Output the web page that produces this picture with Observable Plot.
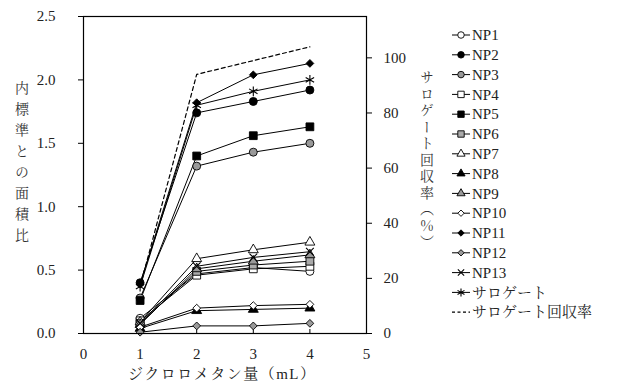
<!DOCTYPE html>
<html>
<head>
<meta charset="utf-8">
<script src="https://cdn.jsdelivr.net/npm/d3@7"></script>
<script src="https://cdn.jsdelivr.net/npm/@observablehq/plot@0.6"></script>
<style>
  html, body { margin: 0; padding: 0; background: #fff; }
  #wrap { position: relative; width: 619px; height: 383px; }
  .vlab { position: absolute; writing-mode: vertical-rl; text-orientation: upright; font-size: 14px; color: #333; font-family: 'Noto Serif CJK JP', 'Liberation Serif', serif; white-space: nowrap; }
  .hlab { position: absolute; font-size: 15px; color: #222; white-space: nowrap; font-family: 'Liberation Serif', 'Noto Serif CJK JP', serif; }
</style>
</head>
<body>
<div id="wrap"></div>
<script>
// ---- data ----
const volumes = [1, 2, 3, 4];                       // ジクロロメタン量 (mL)
const seriesNames = ["NP1","NP2","NP3","NP4","NP5","NP6","NP7","NP8","NP9","NP10","NP11","NP12","NP13","サロゲート"];
const np1  = [0.12, 0.47, 0.52, 0.49];
const np2  = [0.40, 1.74, 1.83, 1.92];
const np3  = [0.28, 1.32, 1.43, 1.50];
const np4  = [0.10, 0.46, 0.51, 0.53];
const np5  = [0.26, 1.40, 1.56, 1.63];
const np6  = [0.08, 0.49, 0.54, 0.57];
const np7  = [0.09, 0.59, 0.66, 0.72];
const np8  = [0.04, 0.18, 0.19, 0.20];
const np9  = [0.07, 0.51, 0.57, 0.62];
const np10 = [0.05, 0.20, 0.22, 0.23];
const np11 = [0.39, 1.82, 2.04, 2.13];
const np12 = [0.01, 0.06, 0.06, 0.08];
const np13 = [0.08, 0.53, 0.60, 0.645];
const surrogate = [0.37, 1.80, 1.91, 2.00];
const recoveryRate = [17, 94, 99, 104];             // サロゲート回収率 (%)
const leftTicks = [0, 0.5, 1.0, 1.5, 2.0, 2.5];
const rightTicks = [0, 20, 40, 60, 80, 100];
const xTicks = [0, 1, 2, 3, 4, 5];
const rightMax = 115;
const leftMax = 2.5;

const seriesValues = [np1,np2,np3,np4,np5,np6,np7,np8,np9,np10,np11,np12,np13,surrogate];
// styles
const FONT = "'Liberation Serif', 'Noto Serif CJK JP', serif";
const symbols = ["circle","circle","circle","square","square","square","triangle","triangle","triangle","diamond2","diamond2","diamond2","times","asterisk"];
const fills = ["white","black","#999","white","black","#aaa","white","black","#999","white","black","#999","none","none"];
const radii = {circle: 4, square: 4.4, triangle: 3.7, diamond2: 3.5, times: 3.6, asterisk: 4.6};

const k = leftMax / rightMax;
const rows = [];
seriesValues.forEach((vals, i) => vals.forEach((v, j) => rows.push({name: seriesNames[i], x: volumes[j], y: v, i})));
const rateRows = recoveryRate.map((v, j) => ({x: volumes[j], y: v * k}));

const marks = [];
seriesValues.forEach((vals, i) => {
  const d = rows.filter(r => r.i === i);
  marks.push(Plot.line(d, {x: "x", y: "y", stroke: "black", strokeWidth: 1}));
});
marks.push(Plot.line(rateRows, {x: "x", y: "y", stroke: "black", strokeWidth: 1.2, strokeDasharray: "4,3"}));
seriesValues.forEach((vals, i) => {
  const d = rows.filter(r => r.i === i);
  const s = symbols[i];
  const open = s === "times" || s === "asterisk";
  marks.push(Plot.dot(d, {x: "x", y: "y", symbol: s, r: radii[s],
    fill: open ? "none" : fills[i], stroke: "black", strokeWidth: open ? 1.1 : 0.9}));
});

const chart = Plot.plot({
  width: 619, height: 383,
  marginLeft: 83, marginRight: 253, marginTop: 16, marginBottom: 50,
  style: {fontFamily: FONT, fontSize: "15px", color: "black", background: "white"},
  x: {domain: [0, 5]},
  y: {domain: [0, leftMax]},
  marks: [
    Plot.axisY({ticks: leftTicks, tickFormat: d3.format(".1f"), tickSize: 5, tickPadding: 23, label: null, fill: "#222", fontFamily: FONT, fontSize: 15}),
    Plot.axisY({anchor: "right", ticks: rightTicks.map(v => v * k), tickFormat: d => String(Math.round(d / k)), tickSize: 5, tickPadding: 12, label: null, fill: "#222", fontFamily: FONT, fontSize: 15}),
    Plot.axisX({ticks: xTicks, tickSize: 0, tickPadding: 15, tickFormat: d3.format("d"), label: null, fill: "#222", fontFamily: FONT, fontSize: 15}),
    Plot.axisX({ticks: xTicks, tickSize: -4, text: null, label: null}),
    ...marks,
    Plot.frame({stroke: "black", strokeWidth: 1.2})
  ]
});

const wrap = document.getElementById("wrap");
wrap.appendChild(chart);

// ---- legend (drawn into the SVG) ----
const svg = d3.select(chart);
const lg = svg.append("g").attr("font-family", FONT).attr("font-size", 15).attr("text-anchor", "start");
const symMap = {circle: d3.symbolCircle, square: d3.symbolSquare, triangle: d3.symbolTriangle, diamond2: d3.symbolDiamond2, times: d3.symbolTimes, asterisk: d3.symbolAsterisk};
const legendNames = [...seriesNames, "サロゲート回収率"];
const y0 = 35, dy = 19.8, lx0 = 452, lx1 = 470, tx = 472;
legendNames.forEach((name, i) => {
  const y = y0 + i * dy;
  const g = lg.append("g").attr("transform", `translate(0,${y})`);
  if (i < seriesNames.length) {
    g.append("line").attr("x1", lx0).attr("x2", lx1).attr("y1", 0).attr("y2", 0).attr("stroke", "black").attr("stroke-width", 1);
    const s = symbols[i];
    const open = s === "times" || s === "asterisk";
    const r = radii[s] * 0.82;
    g.append("path").attr("transform", `translate(${(lx0 + lx1) / 2},0)`)
      .attr("d", d3.symbol().type(symMap[s]).size(Math.PI * r * r)())
      .attr("fill", open ? "none" : fills[i]).attr("stroke", "black").attr("stroke-width", open ? 1.1 : 0.9);
  } else {
    g.append("line").attr("x1", lx0).attr("x2", lx1).attr("y1", 0).attr("y2", 0).attr("stroke", "black").attr("stroke-width", 1.2).attr("stroke-dasharray", "3,2.5");
  }
  g.append("text").attr("x", tx).attr("y", 0).attr("dy", "0.35em").attr("fill", "#222")
    .attr("text-anchor", "start").style("font-family", FONT).text(name);
});

// ---- axis titles ----
const l1 = document.createElement("div");
l1.className = "vlab"; l1.textContent = "内標準との面積比";
l1.style.left = "12px"; l1.style.top = "81px"; l1.style.letterSpacing = "7px";
wrap.appendChild(l1);
const l2 = document.createElement("div");
l2.className = "vlab"; l2.textContent = "サロゲート回収率（%）";
l2.style.left = "417px"; l2.style.top = "70px"; l2.style.letterSpacing = "2.5px";
wrap.appendChild(l2);
const l3 = document.createElement("div");
l3.className = "hlab"; l3.textContent = "ジクロロメタン量（mL）";
l3.style.left = "128px"; l3.style.top = "362px"; l3.style.letterSpacing = "1.5px";
wrap.appendChild(l3);
</script>
</body>
</html>
